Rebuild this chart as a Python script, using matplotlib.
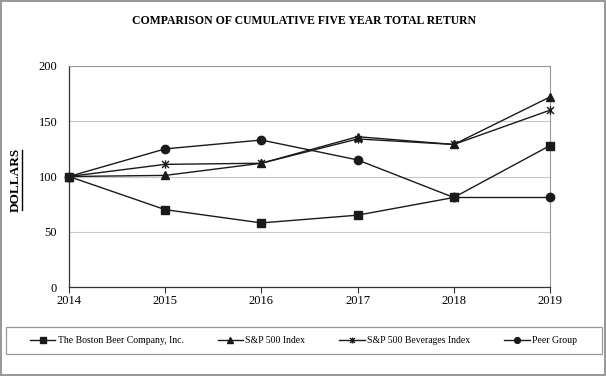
import numpy as np
import matplotlib
matplotlib.use("Agg")
import matplotlib.pyplot as plt
from matplotlib.path import Path
from matplotlib.lines import Line2D
from matplotlib.patches import Rectangle

plt.rcParams['font.family'] = ['Liberation Serif', 'DejaVu Serif']

years = [2014, 2015, 2016, 2017, 2018, 2019]
boston = [100, 70, 58, 65, 81, 128]
sp500 = [100, 101, 112, 136, 129, 172]
bev = [100, 111, 112, 134, 129, 160]
peer = [100, 125, 133, 115, 81, 81]
labels = ["The Boston Beer Company, Inc.", "S&P 500 Index",
          "S&P 500 Beverages Index", "Peer Group"]

# x with a vertical bar, like the spreadsheet "star" marker
star = Path([(-1, -1), (1, 1), (-1, 1), (1, -1), (0, -1.2), (0, 1.2)],
            [Path.MOVETO, Path.LINETO, Path.MOVETO, Path.LINETO, Path.MOVETO, Path.LINETO])

fig = plt.figure(figsize=(6.06, 3.76), dpi=100)
fig.patch.set_edgecolor('#999999')
fig.patch.set_linewidth(1.5)

ax = fig.add_axes([69/606, 1-287/376, (550-69)/606, (287-66)/376])
lc = '#1a1a1a'
kw = dict(color=lc, lw=1.0, ms=6, clip_on=False, zorder=3)
ax.plot(years, boston, marker='s', label=labels[0], **kw)
ax.plot(years, sp500, marker='^', label=labels[1], **kw)
ax.plot(years, bev, marker=star, mew=1.0, label=labels[2], **kw)
ax.plot(years, peer, marker='o', label=labels[3], **kw)

ax.set_xlim(2014, 2019)
ax.set_ylim(0, 200)
ax.set_yticks([0, 50, 100, 150, 200])
ax.set_xticks(years)
ax.grid(axis='y', color='#c8c8c8', lw=0.8)
ax.set_axisbelow(True)
for s in ['top', 'right']:
    ax.spines[s].set_color('#999999')
    ax.spines[s].set_linewidth(0.8)
for s in ['left', 'bottom']:
    ax.spines[s].set_color('#333333')
    ax.spines[s].set_linewidth(0.9)
ax.tick_params(axis='y', length=0, labelsize=9, pad=8.5)
ax.tick_params(axis='x', length=4, direction='out', labelsize=9, pad=2, color='#333333')

fig.text(304/606, 1-21/376, "COMPARISON OF CUMULATIVE FIVE YEAR TOTAL RETURN",
         ha='center', va='center', fontsize=8.5, fontweight='bold')
fig.text(16/606, 1-180/376, "DOLLARS", rotation=90, ha='center', va='center',
         fontsize=9.5, fontweight='bold')
fig.add_artist(Line2D([21.5/606, 21.5/606], [1-210/376, 1-150/376],
                      color='black', lw=1.0, transform=fig.transFigure))

fig.add_artist(Rectangle((6/606, 1-354/376), 596/606, 27/376, transform=fig.transFigure,
                         fill=False, edgecolor='#999999', lw=0.9))
handles, lbls = ax.get_legend_handles_labels()
leg = fig.legend(handles, lbls, loc='center left', ncol=4,
                 bbox_to_anchor=(30/606, 1-340.5/376),
                 fontsize=7, markerscale=0.7, handlelength=2.6, handletextpad=0.25,
                 columnspacing=3.5, frameon=False, borderaxespad=0, borderpad=0)

fig.savefig('out.png', dpi=100)
